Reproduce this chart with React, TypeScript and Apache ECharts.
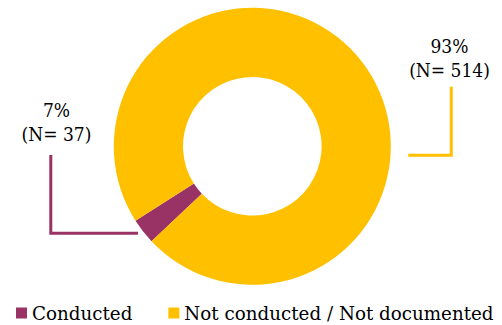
import React, { useEffect, useRef } from "react";
import * as echarts from "echarts";

const categories = ["Conducted", "Not conducted / Not documented"];
const sliceValues = [3, 97];
const percentLabels = ["7%", "93%"];
const countLabels = [37, 514];
const colors = ["#993366", "#FFC000"];

// label placement (layout only)
const labelPos = [
  { x: 56.5, y: 122, line: [[138, 233.3], [50.8, 233.3], [50.8, 155]] },
  { x: 449.5, y: 58, line: [[408.3, 155.3], [451.3, 155.3], [451.3, 86.7]] },
];

export default function App() {
  const ref = useRef<HTMLDivElement>(null);
  useEffect(() => {
    document.body.style.margin = "0";
    const chart = echarts.init(ref.current!, null, { renderer: "svg" });
    chart.setOption({
      animation: false,
      color: colors,
      legend: {
        data: categories,
        left: 11,
        top: 296,
        width: 500,
        icon: "rect",
        itemWidth: 11,
        itemHeight: 11,
        itemGap: 36,
        textStyle: { fontFamily: "DejaVu Serif", fontSize: 18.3, color: "#000", lineHeight: 24 },
      },
      series: [
        {
          type: "pie",
          center: [252.3, 146.3],
          radius: [69.3, 138.5],
          startAngle: 223.3,
          clockwise: true,
          avoidLabelOverlap: false,
          itemStyle: { borderWidth: 0 },
          emphasis: { disabled: true },
          label: {
            show: true,
            position: "outside",
            fontFamily: "DejaVu Serif Condensed",
            fontSize: 19,
            lineHeight: 24.5,
            color: "#000",
            align: "center",
            formatter: (p: any) => `${percentLabels[p.dataIndex]}\n(N= ${countLabels[p.dataIndex]})`,
          },
          labelLine: { show: true, smooth: false, lineStyle: { width: 3 } },
          labelLayout: (p: any) => {
            const l = labelPos[p.dataIndex];
            return {
              x: l.x,
              y: l.y,
              align: "center",
              verticalAlign: "middle",
              labelLinePoints: l.line,
            };
          },
          data: categories.map((name, i) => ({ name, value: sliceValues[i] })),
        },
      ],
    });
    return () => chart.dispose();
  }, []);
  return <div ref={ref} style={{ width: 502, height: 325 }} />;
}
